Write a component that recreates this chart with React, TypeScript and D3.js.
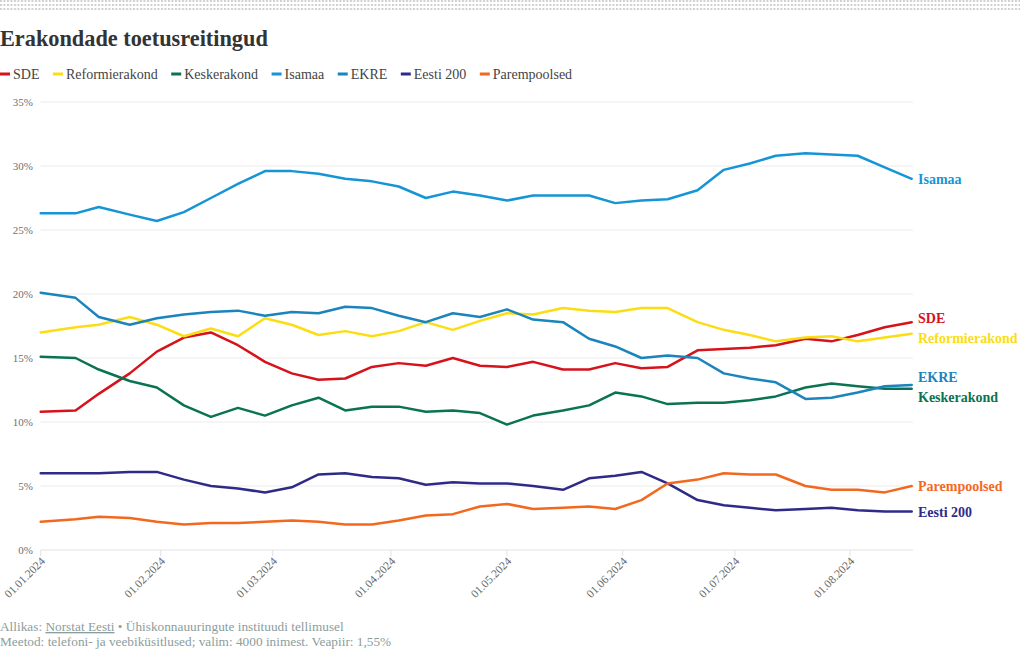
import React, { useEffect, useRef } from 'react';
import * as d3 from 'd3';

const dates = [
  '2024-01-01', '2024-01-10', '2024-01-16', '2024-01-24', '2024-01-31',
  '2024-02-07', '2024-02-14', '2024-02-21', '2024-02-28', '2024-03-06',
  '2024-03-13', '2024-03-20', '2024-03-27', '2024-04-03', '2024-04-10',
  '2024-04-17', '2024-04-24', '2024-05-01', '2024-05-08', '2024-05-16',
  '2024-05-23', '2024-05-30', '2024-06-06', '2024-06-13', '2024-06-21',
  '2024-06-28', '2024-07-05', '2024-07-12', '2024-07-20', '2024-07-27',
  '2024-08-03', '2024-08-10', '2024-08-17',
];

const sde = [10.8, 10.9, 12.2, 13.8, 15.5, 16.6, 17.0, 16.0, 14.7, 13.8, 13.3, 13.4, 14.3, 14.6, 14.4, 15.0, 14.4, 14.3, 14.7, 14.1, 14.1, 14.6, 14.2, 14.3, 15.6, 15.7, 15.8, 16.0, 16.5, 16.3, 16.8, 17.4, 17.8];
const reformierakond = [17.0, 17.4, 17.6, 18.2, 17.6, 16.7, 17.3, 16.7, 18.1, 17.6, 16.8, 17.1, 16.7, 17.1, 17.8, 17.2, 17.9, 18.5, 18.4, 18.9, 18.7, 18.6, 18.9, 18.9, 17.8, 17.2, 16.8, 16.3, 16.6, 16.7, 16.3, 16.6, 16.9];
const keskerakond = [15.1, 15.0, 14.1, 13.2, 12.7, 11.3, 10.4, 11.1, 10.5, 11.3, 11.9, 10.9, 11.2, 11.2, 10.8, 10.9, 10.7, 9.8, 10.5, 10.9, 11.3, 12.3, 12.0, 11.4, 11.5, 11.5, 11.7, 12.0, 12.7, 13.0, 12.8, 12.6, 12.6];
const isamaa = [26.3, 26.3, 26.8, 26.2, 25.7, 26.4, 27.5, 28.6, 29.6, 29.6, 29.4, 29.0, 28.8, 28.4, 27.5, 28.0, 27.7, 27.3, 27.7, 27.7, 27.7, 27.1, 27.3, 27.4, 28.1, 29.7, 30.2, 30.8, 31.0, 30.9, 30.8, 29.9, 29.0];
const ekre = [20.1, 19.7, 18.2, 17.6, 18.1, 18.4, 18.6, 18.7, 18.3, 18.6, 18.5, 19.0, 18.9, 18.3, 17.8, 18.5, 18.2, 18.8, 18.0, 17.8, 16.5, 15.9, 15.0, 15.2, 15.0, 13.8, 13.4, 13.1, 11.8, 11.9, 12.3, 12.8, 12.9];
const eesti200 = [6.0, 6.0, 6.0, 6.1, 6.1, 5.5, 5.0, 4.8, 4.5, 4.9, 5.9, 6.0, 5.7, 5.6, 5.1, 5.3, 5.2, 5.2, 5.0, 4.7, 5.6, 5.8, 6.1, 5.2, 3.9, 3.5, 3.3, 3.1, 3.2, 3.3, 3.1, 3.0, 3.0];
const parempoolsed = [2.2, 2.4, 2.6, 2.5, 2.2, 2.0, 2.1, 2.1, 2.2, 2.3, 2.2, 2.0, 2.0, 2.3, 2.7, 2.8, 3.4, 3.6, 3.2, 3.3, 3.4, 3.2, 3.9, 5.2, 5.5, 6.0, 5.9, 5.9, 5.0, 4.7, 4.7, 4.5, 5.0];

const seriesNames = ['SDE', 'Reformierakond', 'Keskerakond', 'Isamaa', 'EKRE', 'Eesti 200', 'Parempoolsed'];
const seriesValues = [sde, reformierakond, keskerakond, isamaa, ekre, eesti200, parempoolsed];
const seriesColors = ['#d6121b', '#fbdd14', '#0a7352', '#1595d5', '#1b84bd', '#2e2b88', '#f2681f'];

const yTicks = [0, 5, 10, 15, 20, 25, 30, 35];
const xTickDates = ['2024-01-01', '2024-02-01', '2024-03-01', '2024-04-01', '2024-05-01', '2024-06-01', '2024-07-01', '2024-08-01'];

const title = 'Erakondade toetusreitingud';
const sourceLabel = 'Allikas: ';
const sourceName = 'Norstat Eesti';
const sourceRest = ' • Ühiskonnauuringute instituudi tellimusel';
const methodNote = 'Meetod: telefoni- ja veebiküsitlused; valim: 4000 inimest. Veapiir: 1,55%';

const W = 1020;
const H = 650;
const FONT = '"Liberation Serif", "DejaVu Serif", serif';

export default function App() {
  const ref = useRef<SVGSVGElement | null>(null);

  useEffect(() => {
    const svg = d3.select(ref.current);
    svg.selectAll('*').remove();
    const parse = d3.timeParse('%Y-%m-%d');
    const fmt = d3.timeFormat('%d.%m.%Y');
    const pts = dates.map((d) => parse(d) as Date);
    const tickDs = xTickDates.map((d) => parse(d) as Date);

    // piecewise time scale (axis breakpoints at month starts)
    const x = d3
      .scaleTime()
      .domain([...tickDs, pts[pts.length - 1]])
      .range([40.7, 160.7, 272.7, 391, 507, 622.7, 735, 850, 911.7]);
    const y = d3.scaleLinear().domain([0, 35]).range([550, 102]);
    const plotRight = 913;

    // dotted band
    const defs = svg.append('defs');
    const pat = defs
      .append('pattern')
      .attr('id', 'dots')
      .attr('width', 3.5)
      .attr('height', 4)
      .attr('patternUnits', 'userSpaceOnUse');
    pat.append('rect').attr('x', 0).attr('y', 0).attr('width', 2).attr('height', 2).attr('fill', '#cfcfcf');
    svg.append('rect').attr('x', 0).attr('y', 0).attr('width', W).attr('height', 11).attr('fill', 'url(#dots)');

    // title
    svg
      .append('text')
      .attr('x', 0)
      .attr('y', 46)
      .attr('font-family', FONT)
      .attr('font-weight', 'bold')
      .attr('font-size', 22.3)
      .attr('fill', '#333')
      .text(title);

    // legend
    const leg = svg.append('g');
    let lx = 0;
    seriesNames.forEach((name, i) => {
      leg
        .append('rect')
        .attr('x', lx)
        .attr('y', 72.5)
        .attr('width', 10)
        .attr('height', 3)
        .attr('fill', seriesColors[i]);
      const t = leg
        .append('text')
        .attr('x', lx + 13)
        .attr('y', 79)
        .attr('font-family', FONT)
        .attr('font-size', 14)
        .attr('fill', '#444')
        .text(name);
      const w = (t.node() as SVGTextElement).getComputedTextLength();
      lx += 13 + w + 13.5;
    });

    // grid + y labels
    const grid = svg.append('g');
    yTicks.forEach((v) => {
      grid
        .append('line')
        .attr('x1', 40.7)
        .attr('x2', plotRight)
        .attr('y1', y(v))
        .attr('y2', y(v))
        .attr('stroke', v === 0 ? '#e2e2e2' : '#ebebeb')
        .attr('stroke-width', 1);
      grid
        .append('text')
        .attr('x', 33)
        .attr('y', y(v))
        .attr('dy', '0.35em')
        .attr('text-anchor', 'end')
        .attr('font-family', FONT)
        .attr('font-size', 11)
        .attr('fill', '#707070')
        .text(`${v}%`);
    });

    // x ticks
    const xa = svg.append('g');
    tickDs.forEach((d) => {
      const px = x(d);
      xa.append('line')
        .attr('x1', px)
        .attr('x2', px)
        .attr('y1', 550)
        .attr('y2', 556)
        .attr('stroke', '#e2e2e2');
      xa.append('text')
        .attr('transform', `translate(${px + 5},${562}) rotate(-45)`)
        .attr('text-anchor', 'end')
        .attr('font-family', FONT)
        .attr('font-size', 11.5)
        .attr('fill', '#666')
        .text(fmt(d));
    });

    // lines
    const line = d3
      .line<number>()
      .x((_, i) => x(pts[i]))
      .y((v) => y(v))
      .curve(d3.curveLinear);
    const lg = svg.append('g');
    seriesValues.forEach((vals, i) => {
      lg.append('path')
        .attr('d', line(vals) as string)
        .attr('fill', 'none')
        .attr('stroke', seriesColors[i])
        .attr('stroke-width', 2.5)
        .attr('stroke-linejoin', 'round')
        .attr('stroke-linecap', 'round');
    });

    // end labels with collision avoidance
    const labels = seriesNames.map((name, i) => ({
      name,
      color: seriesColors[i],
      y: y(seriesValues[i][seriesValues[i].length - 1]),
    }));
    const minGap = 20;
    for (let iter = 0; iter < 200; iter++) {
      labels.sort((a, b) => a.y - b.y);
      let moved = false;
      for (let k = 1; k < labels.length; k++) {
        const a = labels[k - 1];
        const b = labels[k];
        const gap = b.y - a.y;
        if (gap < minGap - 0.01) {
          const shift = (minGap - gap) / 2;
          a.y -= shift;
          b.y += shift;
          moved = true;
        }
      }
      if (!moved) break;
    }
    const lab = svg.append('g');
    labels.forEach((l) => {
      lab
        .append('text')
        .attr('x', 918)
        .attr('y', l.y)
        .attr('dy', '0.35em')
        .attr('font-family', FONT)
        .attr('font-weight', 'bold')
        .attr('font-size', 14)
        .attr('fill', l.color)
        .text(l.name);
    });

    // footer
    const f1 = svg
      .append('text')
      .attr('x', 0)
      .attr('y', 631)
      .attr('font-family', FONT)
      .attr('font-size', 13.3)
      .attr('fill', '#8b9d9d');
    f1.append('tspan').text(sourceLabel);
    f1.append('tspan').attr('text-decoration', 'underline').text(sourceName);
    f1.append('tspan').text(sourceRest);
    svg
      .append('text')
      .attr('x', 0)
      .attr('y', 646)
      .attr('font-family', FONT)
      .attr('font-size', 13.3)
      .attr('fill', '#8b9d9d')
      .text(methodNote);
  }, []);

  return (
    <svg
      ref={ref}
      width={W}
      height={H}
      style={{ position: 'absolute', left: 0, top: 0, background: '#fff' }}
    />
  );
}
